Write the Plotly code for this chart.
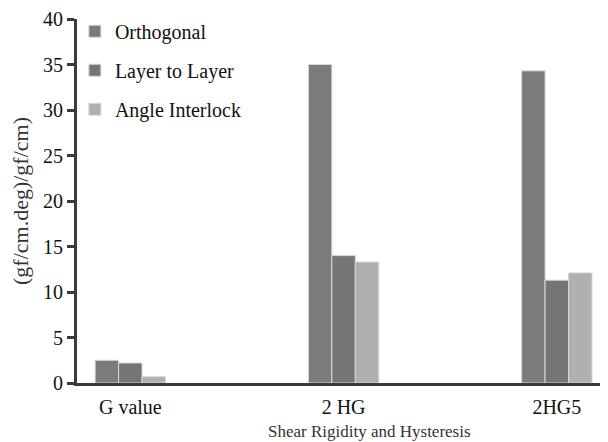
import plotly.graph_objects as go

categories = ["G value", "2 HG", "2HG5"]
orthogonal = [2.5, 35.0, 34.3]
layer_to_layer = [2.2, 14.0, 11.3]
angle_interlock = [0.7, 13.3, 12.1]
series_names = ["Orthogonal", "Layer to Layer", "Angle Interlock"]
y_ticks = [0, 5, 10, 15, 20, 25, 30, 35, 40]

colors = ["#7b7b7b", "#747574", "#b0b0b0"]
font = "Liberation Serif, Times New Roman, serif"

fig = go.Figure()
for i, (name, vals) in enumerate(zip(series_names, [orthogonal, layer_to_layer, angle_interlock])):
    fig.add_trace(go.Bar(
        x=categories, y=vals, name=name, legendgroup=name,
        marker=dict(color=colors[i], line=dict(color="#d8d8d8", width=1)),
    ))

# page body has an 8px default margin, so the figure is sized/offset to compensate
fig.update_layout(
    width=600, height=434,
    margin=dict(l=69, r=0, t=11, b=59, autoexpand=False),
    paper_bgcolor="white", plot_bgcolor="white",
    barmode="group", bargap=0.67, bargroupgap=0,
    font=dict(family=font, size=20, color="#111111"),
    showlegend=True,
    legend=dict(x=-0.004, y=1.02, xanchor="left", yanchor="top",
                bgcolor="rgba(0,0,0,0)", font=dict(size=20, family=font),
                traceorder="grouped", tracegroupgap=10, itemwidth=30),
    xaxis=dict(range=[-0.25, 2.24], showline=True, linecolor="#3a3a3a", linewidth=3,
               ticks="", showgrid=False, zeroline=False, ticklabelstandoff=4,
               tickfont=dict(size=20, family=font)),
    yaxis=dict(range=[0, 40], tickvals=y_ticks, showline=True, linecolor="#3a3a3a",
               linewidth=3, ticks="outside", ticklen=7, tickwidth=3, tickcolor="#3a3a3a",
               showgrid=False, zeroline=False,
               title=dict(text="(gf/cm.deg)/gf/cm)", font=dict(size=22, family=font, color="#333333"), standoff=15),
               tickfont=dict(size=20, family=font)),
)
fig.add_annotation(text="Shear Rigidity and Hysteresis", xref="paper", yref="paper",
                   x=(361 - 69) / 531, y=-37 / 364, xanchor="center", yanchor="top",
                   showarrow=False, font=dict(size=17, family=font, color="#333333"))
fig.write_html("out.html")
